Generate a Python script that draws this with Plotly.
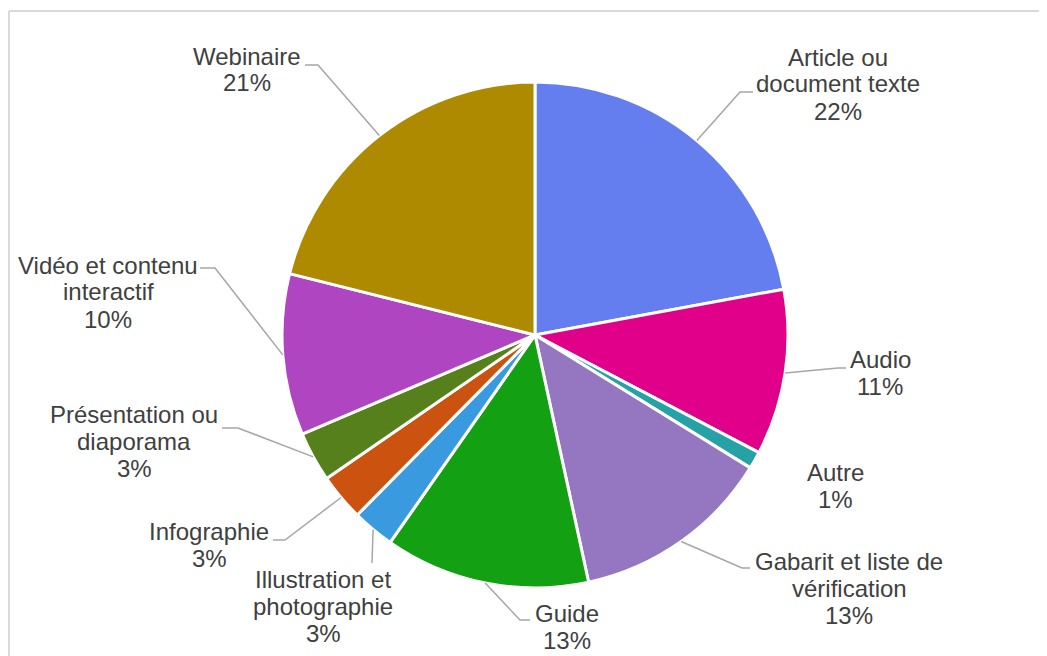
import math
import plotly.graph_objects as go

# ---- data ----
categories = ["Article ou document texte", "Audio", "Autre", "Gabarit et liste de vérification",
              "Guide", "Illustration et photographie", "Infographie", "Présentation ou diaporama",
              "Vidéo et contenu interactif", "Webinaire"]
label_lines = [["Article ou", "document texte"], ["Audio"], ["Autre"],
               ["Gabarit et liste de", "vérification"], ["Guide"],
               ["Illustration et", "photographie"], ["Infographie"],
               ["Présentation ou", "diaporama"], ["Vidéo et contenu", "interactif"], ["Webinaire"]]
values = [22.1, 10.6, 1.1, 12.8, 13.1, 2.7, 3.0, 3.2, 10.3, 21.1]
colors = ["#657EEF", "#E0008A", "#26A2A6", "#9576C0", "#13A013",
          "#3A9AE0", "#CC5210", "#55801C", "#B045C2", "#AE8A00"]

# ---- layout config (page pixels; the page body adds an 8px offset) ----
OFF = 8
W, H = 1047 - OFF, 656 - OFF
CX, CY, R = 535, 335, 253
LINE_H = 27
FONT = dict(family="Arial, Liberation Sans, sans-serif", size=24, color="#404040")
# label centre x and y of first line; leader line path (elbow, end); None = no leader
label_pos = [(838, 57), (880, 359), (835, 472), (849, 561), (567, 613),
             (323, 579), (209, 531), (134, 414), (108, 265), (247, 56)]
leader_path = [[(740, 92), (753, 92)], [(838, 368), (846, 368)], None,
               [(742, 568), (750, 568)], [(520, 620), (530, 620)],
               [(372, 563)], [(285, 540), (273, 540)], [(238, 428), (222, 428)],
               [(215, 268), (200, 268)], [(318, 65), (305, 65)]]


def px(x):
    return (x - OFF) / W


def py(y):
    return 1 - (y - OFF) / H


fig = go.Figure(go.Pie(
    labels=categories, values=values, sort=False, direction="clockwise", rotation=0,
    marker=dict(colors=colors, line=dict(color="white", width=3)),
    textinfo="none", hoverinfo="label+percent",
    domain=dict(x=[px(CX - R), px(CX + R)], y=[py(CY + R), py(CY - R)]),
))

total = sum(values)
cum = 0
annotations = []
shapes = []
for i, v in enumerate(values):
    mid = (cum + v / 2) / total
    cum += v
    theta = 2 * math.pi * mid
    ex, ey = CX + R * math.sin(theta), CY - R * math.cos(theta)
    pct = int(v / total * 100 + 0.5)
    lx, ly = label_pos[i]
    lines = label_lines[i] + [f"{pct}%"]
    for k, txt in enumerate(lines):
        annotations.append(dict(
            x=px(lx), y=py(ly + k * LINE_H), xref="paper", yref="paper", showarrow=False,
            text=txt, xanchor="center", yanchor="middle", font=FONT,
        ))
    if leader_path[i]:
        pts = [(ex, ey)] + leader_path[i]
        path = "M " + " L ".join(f"{px(a)},{py(b)}" for a, b in pts)
        shapes.append(dict(type="path", xref="paper", yref="paper", path=path,
                           line=dict(color="#A6A6A6", width=1.5)))

# chart frame (top and left edges visible)
shapes.append(dict(type="line", xref="paper", yref="paper", x0=px(9), y0=py(11), x1=1.05, y1=py(11),
                   line=dict(color="#D9D9D9", width=2)))
shapes.append(dict(type="line", xref="paper", yref="paper", x0=px(9), y0=py(11), x1=px(9), y1=-0.05,
                   line=dict(color="#D9D9D9", width=2)))

fig.update_layout(
    width=W, height=H, margin=dict(l=0, r=0, t=0, b=0),
    paper_bgcolor="white", plot_bgcolor="white", showlegend=False,
    annotations=annotations, shapes=shapes,
)
fig.write_html("out.html")
